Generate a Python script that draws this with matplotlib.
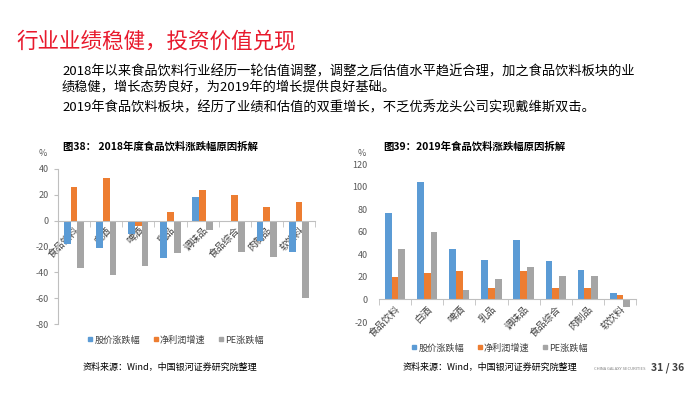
import numpy as np
import matplotlib
matplotlib.use("Agg")
import matplotlib.pyplot as plt
from matplotlib.lines import Line2D

plt.rcParams['font.family'] = ['Noto Sans CJK SC', 'DejaVu Sans']
plt.rcParams['axes.unicode_minus'] = False

# data
categories = ["食品饮料", "白酒", "啤酒", "乳品", "调味品", "食品综合", "肉制品", "软饮料"]
series_names = ["股价涨跌幅", "净利润增速", "PE涨跌幅"]

price_2018 = [-18, -21, -10, -29, 18, -0.5, -16, -24]
profit_2018 = [26, 33, -4, 7, 24, 19.5, 10.5, 14.5]
pe_2018 = [-37, -42, -35, -25, -7.5, -24.5, -28, -59.5]

price_2019 = [77, 104, 45, 34.5, 53, 34, 26.3, 5.3]
profit_2019 = [19.8, 23, 25.4, 10.3, 25, 10.3, 9.8, 3.8]
pe_2019 = [44.5, 59.5, 8.3, 18, 28.7, 21, 20.4, -6.8]

colors = ["#5B9BD5", "#ED7D31", "#A5A5A5"]
W, H = 700, 394


def fx(px):
    return px / W


def fy(py):
    return 1 - py / H


fig = plt.figure(figsize=(7, 3.94), dpi=100)

#  Header text
fig.text(fx(16), fy(41), "行业业绩稳健，投资价值兑现", color="#E8192C",
         fontsize=15.5, va="center", ha="left")
lines = [
    (72, "2018年以来食品饮料行业经历一轮估值调整，调整之后估值水平趋近合理，加之食品饮料板块的业"),
    (88, "绩稳健，增长态势良好，为2019年的增长提供良好基础。"),
    (108, "2019年食品饮料板块，经历了业绩和估值的双重增长，不乏优秀龙头公司实现戴维斯双击。"),
]
for y, t in lines:
    fig.text(fx(62), fy(y), t, fontsize=9.5, va="center", ha="left", color="black")


def draw_chart(rect, s1, s2, s3, ylim, yticks, show_left):
    ax = fig.add_axes(rect)
    x = np.arange(len(categories))
    w = 0.21
    for i, vals in enumerate([s1, s2, s3]):
        ax.bar(x + (i - 1) * w, vals, width=w, color=colors[i], zorder=2)
    ax.set_xlim(-0.5, len(categories) - 0.5)
    ax.set_ylim(*ylim)
    ax.set_yticks(yticks)
    ax.tick_params(axis="y", labelsize=6.5, labelcolor="#595959", color="#BFBFBF", length=3)
    ax.spines["top"].set_visible(False)
    ax.spines["right"].set_visible(False)
    ax.spines["bottom"].set_position(("data", 0))
    ax.spines["bottom"].set_color("#BFBFBF")
    ax.spines["left"].set_color("#BFBFBF")
    if not show_left:
        ax.spines["left"].set_visible(False)
        ax.tick_params(axis="y", length=0, pad=8)
    ax.set_xticks(x)
    ax.set_xticklabels(categories, rotation=45, ha="right", va="top",
                       rotation_mode="anchor", fontsize=7, color="#404040")
    ax.set_xticks(np.arange(len(categories) + 1) - 0.5, minor=True)
    ax.tick_params(axis="x", which="major", length=0, pad=3)
    ax.tick_params(axis="x", which="minor", length=4, color="#BFBFBF")
    ax.set_facecolor("none")
    return ax


# chart 1 (2018)
draw_chart([fx(58), fy(324), fx(315) - fx(58), fy(169) - fy(324)],
           price_2018, profit_2018, pe_2018, (-80, 40), range(-80, 41, 20), True)
# chart 2 (2019)
draw_chart([fx(379), fy(322), fx(636) - fx(379), fy(164) - fy(322)],
           price_2019, profit_2019, pe_2019, (-20, 120), range(-20, 121, 20), False)

#  Chart titles and unit labels
fig.text(fx(63), fy(147), "图38： 2018年度食品饮料涨跌幅原因拆解", fontsize=7.5,
         fontweight="bold", va="center", ha="left")
fig.text(fx(383), fy(147), "图39：2019年食品饮料涨跌幅原因拆解", fontsize=7.5,
         fontweight="bold", va="center", ha="left")
fig.text(fx(43), fy(153), "%", fontsize=6.5, color="#595959", va="center", ha="center")
fig.text(fx(362), fy(153), "%", fontsize=6.5, color="#595959", va="center", ha="center")

#  Legends
handles = [Line2D([], [], marker="s", linestyle="none", markersize=3.2,
                  color=c) for c in colors]
for cx, cy in [(175, 340), (499, 348)]:
    fig.legend(handles, series_names, loc="center", bbox_to_anchor=(fx(cx), fy(cy)),
               ncol=3, frameon=False, fontsize=6.6, handletextpad=0.05,
               columnspacing=1.3, handlelength=0.8, labelcolor="#404040")

#  Sources and footer
src = "资料来源：Wind，中国银河证券研究院整理"
fig.text(fx(83), fy(367), src, fontsize=6.5, style="italic", va="center", ha="left")
fig.text(fx(403), fy(367), src, fontsize=6.5, style="italic", va="center", ha="left")
fig.text(fx(646), fy(369), "CHINA GALAXY SECURITIES", fontsize=3, color="#808080",
         va="center", ha="right")
fig.text(fx(684), fy(368), "31 / 36", fontsize=7.5, fontweight="bold", color="#404040",
         va="center", ha="right")

fig.savefig("out.png", dpi=100)
plt.close(fig)
